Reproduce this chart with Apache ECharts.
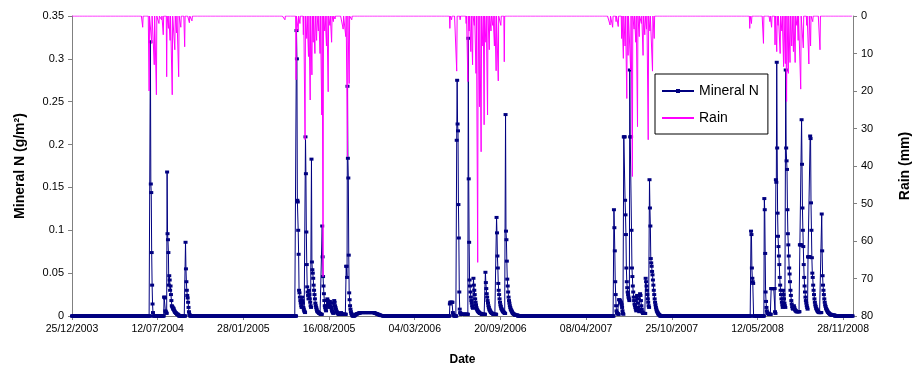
<!DOCTYPE html>
<html>
<head>
<meta charset="utf-8">
<script src="https://cdn.jsdelivr.net/npm/echarts@6/dist/echarts.min.js"></script>
<style>
  html, body { margin: 0; padding: 0; background: #fff; }
  #chart { width: 914px; height: 366px; }
</style>
</head>
<body>
<div id="chart"></div>
<script>
// daily series runs from first to last day, 0 where nothing was read
var firstDay = '2003-12-25';
var lastDay = '2008-12-20';
var axisMax = '2008-12-21';

// mineral N (g/m2): [start date, daily values from that date]
var minN2004 = [
  ['2004-06-25', [0.32,0.154,0.144,0.074,0.036,0.014,0.004]],
  ['2004-07-27', [0.022,0.022,0.021,0.006,0.005,0.004,0.003,0.168,0.096,0.089,0.074,0.036,0.047,0.042,0.030,0.035,0.025,0.018,0.012,0.011,0.010,0.008,0.009,0.007,0.006,0.005,0.004,0.004,0.003,0.003,0.002,0.002,0.002,0.001,0.001]],
  ['2004-09-15', [0.086,0.055,0.040,0.030,0.024,0.021,0.016,0.010,0.005,0.002,0.001]]
];
var minN2005 = [
  ['2005-06-01', [0.333,0.300,0.135,0.133,0.100,0.072,0.030,0.027,0.022,0.018,0.015,0.012,0.010,0.022,0.018,0.015,0.010,0.008,0.006,0.005,0.004]],
  ['2005-06-22', [0.209,0.166,0.098,0.060,0.034,0.028,0.024,0.020,0.030,0.025,0.020,0.016,0.012,0.010]],
  ['2005-07-06', [0.183,0.063,0.054,0.050,0.044,0.036,0.030,0.025,0.020,0.015,0.012,0.010,0.008,0.006,0.005,0.005,0.004,0.004,0.003,0.003,0.003,0.002,0.002,0.002,0.002]],
  ['2005-07-31', [0.105,0.069,0.046,0.035,0.026,0.018,0.012,0.010,0.008,0.006,0.012,0.018,0.020,0.018,0.015,0.012,0.010,0.016,0.017,0.015,0.012,0.010,0.008,0.006,0.005,0.004,0.003,0.015,0.018,0.016,0.012,0.010,0.008,0.006,0.005,0.004,0.003,0.003,0.002,0.002,0.002,0.002,0.002,0.003,0.004,0.003,0.002,0.002,0.002,0.002,0.002,0.002,0.002,0.002,0.002,0.002]],
  ['2005-09-25', [0.058,0.058,0.045,0.268,0.184,0.161,0.071,0.027,0.019,0.012,0.008,0.005,0.003,0.002,0.001]],
  ['2005-10-15', [0.0005,0.001,0.0015,0.002,0.002,0.0025,0.0025,0.003,0.003,0.003,0.0035,0.0035,0.0035,0.004,0.004,
                  0.004,0.004,0.004,0.004,0.004,0.004,0.004,0.004,0.004,0.004,0.004,0.004,0.004,0.004,0.004,0.004,
                  0.004,0.004,0.004,0.004,0.004,0.004,0.004,0.004,0.004,0.004,0.004,0.004,0.004,0.004,0.004,
                  0.0035,0.0035,0.003,0.003,0.003,0.0025,0.0025,0.002,0.002,0.002,0.0015,0.0015,0.001,0.001,0.001,0.0005,0.0005,0.0005,0.0005,0.0005]]
];
var minN2006 = [
  ['2006-05-25', [0.014,0.016,0.016,0.016,0.016,0.016,0.016,0.004,0.002,0.001]],
  ['2006-06-10', [0.205,0.275,0.224,0.216,0.130,0.091,0.028,0.008,0.004,0.003,0.002,0.002,0.002,0.002,0.002,0.002,0.002,0.002,0.002,0.002,0.002,0.002,0.002,0.002,0.002,0.002,0.002]],
  ['2006-07-07', [0.324,0.160,0.086,0.042,0.035,0.028,0.022,0.018,0.015,0.012,0.010,0.009,0.044,0.036,0.030,0.025,0.020,0.016,0.013,0.010,0.008,0.007,0.006,0.005,0.005,0.004,0.004,0.003,0.003,0.003,0.003,0.002,0.002,0.002,0.002,0.002,0.002,0.002,0.002,0.002]],
  ['2006-08-16', [0.051,0.039,0.032,0.026,0.022,0.018,0.015,0.012,0.010,0.008,0.007,0.006,0.005,0.004,0.004,0.003,0.003,0.003,0.002,0.002,0.002,0.002,0.002,0.002,0.002,0.002]],
  ['2006-09-11', [0.115,0.097,0.070,0.056,0.038,0.030,0.025,0.020,0.016,0.013,0.011,0.009,0.008,0.007,0.006,0.005,0.005,0.004,0.004,0.003,0.003]],
  ['2006-10-02', [0.235,0.099,0.089,0.064,0.043,0.035,0.028,0.022,0.018,0.015,0.012,0.010,0.008,0.007,0.006,0.005,0.004,0.003,0.003,0.002,0.002,0.002,0.001,0.001,0.001,0.001,0.001,0.001,0.001]]
];
var minN2007 = [
  ['2007-06-12', [0.124,0.103,0.076,0.040,0.025,0.012,0.006,0.004,0.003,0.003,0.002,0.002,0.019,0.019,0.018,0.017,0.016,0.015,0.013,0.010,0.006,0.003,0.002]],
  ['2007-07-05', [0.209,0.209,0.209,0.135,0.118,0.095,0.056,0.040,0.033,0.028,0.025,0.022,0.020,0.018,
                  0.287,0.209,0.209,0.209,
                  0.100,0.056,0.046,0.035,0.028,0.022,0.018,0.014,0.012,0.010,
                  0.008,0.006,0.022,0.024,0.020,0.015,0.010,0.007,0.005,0.024,0.026,0.024,0.018,0.012,0.008,0.005,0.004,0.003,0.003,0.003,0.003,0.003,0.003,
                  0.044,0.040,0.035,0.030,0.025,0.020,0.016,0.012,0.010]],
  ['2007-09-03', [0.159,0.126,0.105,0.067,0.062,0.058,0.052,0.048,0.042,0.036,0.030,0.025,0.020,0.016,0.013,0.010,0.008,0.006,0.005,0.004,0.003,0.002,0.002,0.001,0.001]]
];
var minN2008 = [
  ['2008-04-27', [0.099,0.095,0.056,0.044,0.040,0.038]],
  ['2008-05-28', [0.137,0.124,0.073,0.028,0.017,0.010,0.006,0.004,0.003,0.003,0.002,0.002,0.002,0.002,0.002,0.002,0.032,0.032,0.032,0.032,0.032,0.032,0.032,0.032,0.032,0.005,0.003]],
  ['2008-06-24', [0.159,0.156,0.296,0.196,0.120,0.093,0.081,0.070,0.060,0.045,0.036,0.030,0.025,0.020,0.016,0.013,0.010,0.030,0.025,0.020,0.015,0.012,0.010]],
  ['2008-07-17', [0.287,0.196,0.181,0.171,0.124,0.096,0.083,0.070,0.056,0.049,0.040,0.030,0.024,0.018,0.014,0.011,0.009,0.008,
                  0.010,0.012,0.010,0.008,0.007,0.006,0.006,0.005,0.005,0.005,0.005,0.005,0.005,0.005,0.005,
                  0.083,0.083,0.083,0.083]],
  ['2008-08-23', [0.229,0.177,0.126,0.100,0.081,0.060,0.045,0.035,0.028,0.022,0.018,0.015,0.012,0.010,0.008,0.069,0.069,0.069,0.069,0.069]],
  ['2008-09-12', [0.210,0.207,0.132,0.100,0.068,0.050,0.045,0.036,0.030,0.025,0.020,0.016,0.013,0.011,0.009,0.008,0.007,0.006,0.005,0.005,0.004,0.004,0.004,0.004,0.004,0.004,0.004]],
  ['2008-10-09', [0.119,0.076,0.047,0.036,0.030,0.025,0.020,0.016,0.013,0.011,0.009,0.008,0.007,0.006,0.005,0.004,0.004,0.003,0.003,0.002,0.002,0.002,0.001,0.001,0.001,0.001,0.001,0.001,0.001,0.001,0.001]]
];

// rain (mm) on single days
var rain2004 = [['2004-06-07',3],['2004-06-22',20],['2004-06-28',7.3],['2004-07-04',13],['2004-07-09',21],['2004-07-15',2],
  ['2004-07-21',1],['2004-07-25',5],['2004-08-02',16.2],['2004-08-06',3.3],['2004-08-10',6.5],['2004-08-15',21],
  ['2004-08-21',9],['2004-08-25',4.5],['2004-08-30',16.2],['2004-09-04',3],['2004-09-13',8.2],['2004-09-24',1.8],['2004-09-30',1.3]];
var rain2005 = [['2005-05-05',1],['2005-05-31',17],['2005-06-05',4],['2005-06-09',2],['2005-06-17',5],['2005-06-21',33],
  ['2005-06-25',6],['2005-06-29',10.8],['2005-07-03',22.4],['2005-07-07',15.7],['2005-07-10',7],['2005-07-14',10],
  ['2005-07-18',6.5],['2005-07-22',4],['2005-07-26',10],['2005-07-30',26.4],['2005-08-02',69.5],['2005-08-06',4],
  ['2005-08-10',8],['2005-08-14',20.2],['2005-08-18',2.5],['2005-08-22',7],['2005-08-26',1.5],['2005-08-30',0.8],
  ['2005-09-18',3.5],['2005-09-24',5.5],['2005-09-28',37.5],['2005-10-02',18],['2005-10-08',1],['2005-10-25',0.3]];
var rain2006 = [['2006-05-25',3.3],['2006-05-29',1],['2006-06-10',14.7],['2006-06-18',1],['2006-07-02',2],['2006-07-06',17.5],
  ['2006-07-09',4],['2006-07-13',9.5],['2006-07-17',13],['2006-07-21',2.5],['2006-07-25',15.3],['2006-07-29',65.7],
  ['2006-08-02',24.2],['2006-08-06',36.2],['2006-08-10',8],['2006-08-13',29],['2006-08-17',7],['2006-08-21',26.4],
  ['2006-08-25',9],['2006-08-29',4],['2006-09-02',2.5],['2006-09-06',8],['2006-09-10',14.6],['2006-09-15',17.3],
  ['2006-09-21',2.5],['2006-09-29',12.2]];
var rain2007 = [['2007-06-03',2.4],['2007-06-09',3],['2007-06-17',1.5],['2007-06-22',2.8],['2007-06-30',6],['2007-07-04',11.3],
  ['2007-07-08',8],['2007-07-12',22],['2007-07-15',10.5],['2007-07-21',14.4],['2007-07-25',42.8],['2007-07-29',3.5],
  ['2007-08-02',7],['2007-08-06',29.5],['2007-08-10',5.5],['2007-08-15',2],['2007-08-19',10.5],['2007-08-23',5],
  ['2007-08-27',3.5],['2007-08-31',33],['2007-09-04',4],['2007-09-10',14.7],['2007-09-14',6],['2007-10-17',0.5]];
var rain2008 = [['2008-04-24',3.3],['2008-04-28',2],['2008-05-26',7.3],['2008-06-10',1.5],['2008-06-14',3],['2008-06-22',7.7],
  ['2008-06-26',9.5],['2008-06-29',2.5],['2008-07-04',10],['2008-07-08',4],['2008-07-12',13.5],['2008-07-16',12.7],
  ['2008-07-19',22.8],['2008-07-23',15.3],['2008-07-27',12.4],['2008-07-31',8],['2008-08-04',9.5],['2008-08-08',12.4],
  ['2008-08-12',2.5],['2008-08-15',6.5],['2008-08-21',19.5],['2008-08-27',8.5],['2008-09-04',2.5],['2008-09-09',12.8],
  ['2008-09-13',8],['2008-09-18',1.5],['2008-10-05',9]];

var DAY = 86400000;
function toMs(s) {
  var p = s.split('-');
  return Date.UTC(+p[0], +p[1] - 1, +p[2]);
}
function pad(n) { return n < 10 ? '0' + n : '' + n; }
function fmtDate(ms) {
  var d = new Date(ms);
  return pad(d.getUTCDate()) + '/' + pad(d.getUTCMonth() + 1) + '/' + d.getUTCFullYear();
}

var minMap = {};
[minN2004, minN2005, minN2006, minN2007, minN2008].forEach(function (year) {
  year.forEach(function (ev) {
    var t0 = toMs(ev[0]);
    ev[1].forEach(function (v, i) { minMap[t0 + i * DAY] = v; });
  });
});
var rainMap = {};
[rain2004, rain2005, rain2006, rain2007, rain2008].forEach(function (year) {
  year.forEach(function (r) { rainMap[toMs(r[0])] = r[1]; });
});

var mineralData = [], rainData = [];
for (var t = toMs(firstDay); t <= toMs(lastDay); t += DAY) {
  mineralData.push([t, minMap[t] || 0]);
  rainData.push([t, rainMap[t] || 0]);
}

var myChart = echarts.init(document.getElementById('chart'));
var font = 'Liberation Sans, Arial, sans-serif';

var option = {
  animation: false,
  textStyle: { fontFamily: font },
  grid: { left: 72, right: 61, top: 16, bottom: 50, outerBoundsMode: 'none', containLabel: false },
  legend: {
    orient: 'vertical',
    left: 655,
    top: 74,
    padding: [10, 9, 9, 6],
    backgroundColor: '#fff',
    borderColor: '#000',
    borderWidth: 1,
    itemWidth: 32,
    itemHeight: 5,
    itemGap: 13,
    textStyle: { fontSize: 14, color: '#000', fontFamily: font },
    data: [
      { name: 'Mineral N' },
      { name: 'Rain', itemStyle: { opacity: 0 } }
    ]
  },
  xAxis: {
    type: 'value',
    min: toMs(firstDay),
    max: toMs(axisMax),
    interval: 200 * DAY,
    name: 'Date',
    nameLocation: 'middle',
    nameGap: 38,
    nameTextStyle: { fontSize: 12, fontWeight: 'bold', color: '#000' },
    splitLine: { show: false },
    axisLine: { lineStyle: { color: '#808080' } },
    axisTick: { show: true, length: 4, lineStyle: { color: '#808080' } },
    axisLabel: {
      fontSize: 10.5, color: '#000', margin: 8,
      showMaxLabel: false,
      formatter: function (v) { return fmtDate(v); }
    }
  },
  yAxis: [
    {
      type: 'value',
      min: 0, max: 0.35, interval: 0.05,
      name: 'Mineral N (g/m²)',
      nameLocation: 'middle',
      nameRotate: 90,
      nameGap: 45,
      nameTextStyle: { fontSize: 14, fontWeight: 'bold', color: '#000' },
      splitLine: { show: false },
      axisLine: { show: true, lineStyle: { color: '#808080' } },
      axisTick: { show: true, length: 4, lineStyle: { color: '#808080' } },
      axisLabel: { fontSize: 11, color: '#000', margin: 8 }
    },
    {
      type: 'value',
      position: 'right',
      inverse: true,
      min: 0, max: 80, interval: 10,
      name: 'Rain (mm)',
      nameLocation: 'middle',
      nameRotate: 90,
      nameGap: 45,
      nameTextStyle: { fontSize: 14, fontWeight: 'bold', color: '#000' },
      splitLine: { show: false },
      axisLine: { show: true, lineStyle: { color: '#808080' } },
      axisTick: { show: true, length: 4, lineStyle: { color: '#808080' } },
      axisLabel: { fontSize: 11, color: '#000', margin: 8 }
    }
  ],
  series: [
    {
      name: 'Mineral N',
      type: 'line',
      data: mineralData,
      color: '#000080',
      symbol: 'rect',
      symbolSize: [4, 3],
      showSymbol: true,
      showAllSymbol: true,
      lineStyle: { width: 1, color: '#000080' },
      itemStyle: { color: '#000080' },
      z: 2
    },
    {
      name: 'Rain',
      type: 'line',
      yAxisIndex: 1,
      data: rainData,
      color: '#ff00ff',
      showSymbol: false,
      symbol: 'none',
      lineStyle: { width: 1, color: '#ff00ff' },
      z: 3
    }
  ]
};

myChart.setOption(option);
</script>
</body>
</html>
